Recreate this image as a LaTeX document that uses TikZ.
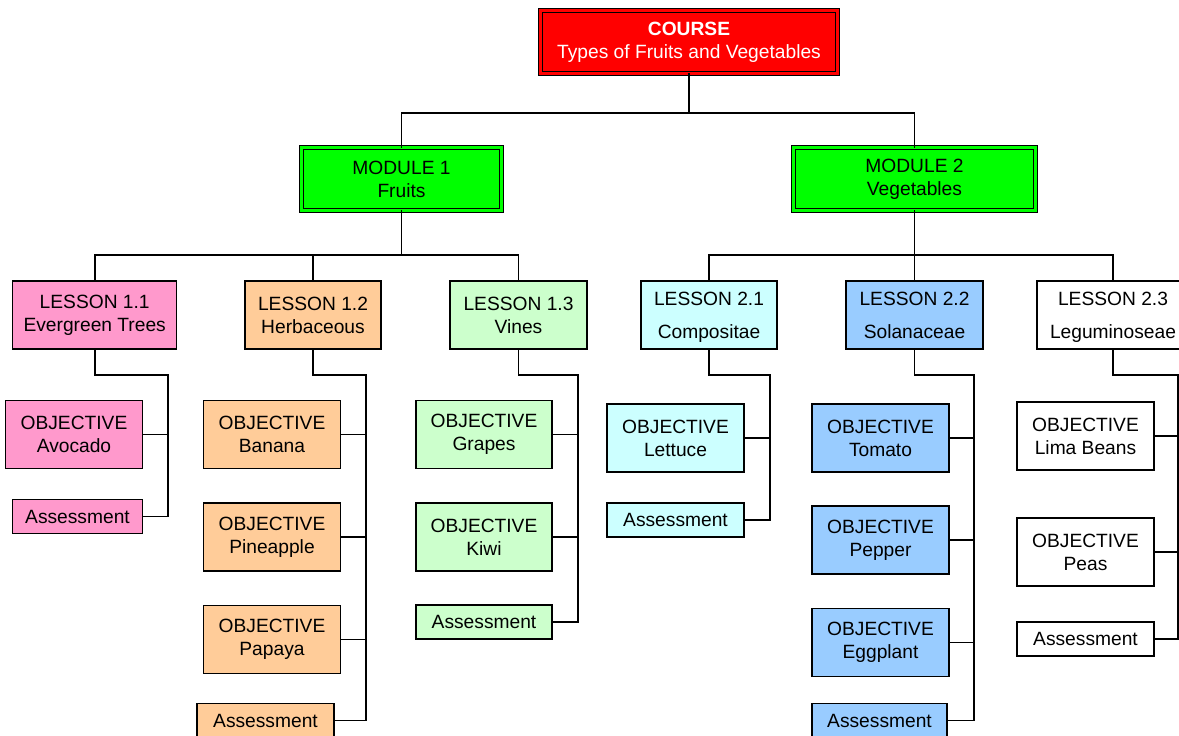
\documentclass[tikz,border=0pt]{standalone}
\usepackage{fontspec}
\setmainfont{Liberation Sans}
\definecolor{pinkfill}{HTML}{FF99CC}
\definecolor{peachfill}{HTML}{FFCC99}
\definecolor{mintfill}{HTML}{CCFFCC}
\definecolor{cyanfill}{HTML}{CCFFFF}
\definecolor{bluefill}{HTML}{99CCFF}
\definecolor{modgreen}{HTML}{00FF00}
\definecolor{coursered}{HTML}{FF0000}
% struts that fix the text block of the tall-spaced lesson boxes
\newcommand{\topstrut}{\rule{0pt}{19pt}}
\newcommand{\botstrut}{\rule[-5pt]{0pt}{5pt}}
\begin{document}
\begin{tikzpicture}[x=1pt,y=-1pt,
  box/.style={draw=black, line width=1.3pt, align=center, inner sep=0pt,
    text=black, font=\fontsize{19.2}{23}\selectfont},
  widebox/.style={box, font=\fontsize{19.2}{32.5}\selectfont},
  dblbox/.style={box, line width=1.2pt, double distance=2.2pt},
  lesson/.style={box, minimum height=68pt},
  objbox/.style={box, minimum width=137pt, minimum height=68pt},
  assess/.style={box, minimum width=137pt, minimum height=34pt},
  main/.style={line width=1.7pt, line cap=rect},
  thin/.style={line width=1.1pt}]
\useasboundingbox (0,0) rectangle (1179,736);
\clip (0,0) rectangle (1179,736);

% course and modules
\node[dblbox, fill=coursered, double=coursered, text=white,
  minimum width=297pt, minimum height=63pt] (course) at (689,42)
  {\textbf{COURSE}\\Types of Fruits and Vegetables};
\node[dblbox, fill=modgreen, double=modgreen,
  minimum width=200pt, minimum height=63pt] (m1) at (401.5,179) {MODULE 1\\Fruits};
\node[dblbox, fill=modgreen, double=modgreen,
  minimum width=242pt, minimum height=63pt] (m2) at (914.5,179) {MODULE 2\\Vegetables};

% lessons
\node[lesson, fill=pinkfill, minimum width=164pt] (l11) at (94.7,315) {LESSON 1.1\\Evergreen Trees};
\node[lesson, fill=peachfill, minimum width=136pt] (l12) at (313,315) {LESSON 1.2\\Herbaceous};
\node[lesson, fill=mintfill, minimum width=137pt] (l13) at (518.5,315) {LESSON 1.3\\Vines};
\node[lesson, widebox, fill=cyanfill, minimum width=136pt, minimum height=68pt] (l21) at (709,315)
  {\topstrut LESSON 2.1\\Compositae\botstrut};
\node[lesson, widebox, fill=bluefill, minimum width=137pt, minimum height=68pt] (l22) at (914.5,315)
  {\topstrut LESSON 2.2\\Solanaceae\botstrut};
\node[lesson, widebox, fill=white, minimum width=152pt, minimum height=68pt] (l23) at (1113,315)
  {\topstrut LESSON 2.3\\Leguminoseae\botstrut};

% lesson 1.1 items
\node[objbox, fill=pinkfill] (o111) at (74,434.5) {OBJECTIVE\\Avocado};
\node[assess, fill=pinkfill, minimum width=130pt] (a11) at (77.5,516.5) {Assessment};

% lesson 1.2 items
\node[objbox, fill=peachfill] (o121) at (272,434.5) {OBJECTIVE\\Banana};
\node[objbox, fill=peachfill] (o122) at (272,537) {OBJECTIVE\\Pineapple};
\node[objbox, fill=peachfill] (o123) at (272,639.5) {OBJECTIVE\\Papaya};
\node[assess, fill=peachfill] (a12) at (265.5,720.5) {Assessment};

% lesson 1.3 items
\node[objbox, fill=mintfill, minimum width=136pt] (o131) at (484,434.5) {OBJECTIVE\\Grapes};
\node[objbox, fill=mintfill, minimum width=136pt] (o132) at (484,537) {OBJECTIVE\\Kiwi};
\node[assess, fill=mintfill, minimum width=136pt] (a13) at (484,622) {Assessment};

% lesson 2.1 items
\node[objbox, fill=cyanfill] (o211) at (675.5,438) {OBJECTIVE\\Lettuce};
\node[assess, fill=cyanfill] (a21) at (675.5,520) {Assessment};

% lesson 2.2 items
\node[objbox, fill=bluefill] (o221) at (880.5,438) {OBJECTIVE\\Tomato};
\node[objbox, fill=bluefill] (o222) at (880.5,540) {OBJECTIVE\\Pepper};
\node[objbox, fill=bluefill] (o223) at (880.5,642.5) {OBJECTIVE\\Eggplant};
\node[assess, fill=bluefill, minimum width=135pt] (a22) at (879.5,720.5) {Assessment};

% lesson 2.3 items
\node[objbox, fill=white] (o231) at (1085.5,436) {OBJECTIVE\\Lima Beans};
\node[objbox, fill=white] (o232) at (1085.5,552) {OBJECTIVE\\Peas};
\node[assess, fill=white] (a23) at (1085.5,639) {Assessment};

% bus points
\coordinate (cb) at (689,113);
\coordinate (m1b) at (401.5,255);
\coordinate (m2b) at (914.5,255);
\coordinate (b11) at (168,375);
\coordinate (b12) at (366,375);
\coordinate (b13) at (578,375);
\coordinate (b21) at (770,375);
\coordinate (b22) at (974,375);
\coordinate (b23) at (1178,375);

% course to modules
\draw[main] (course.south) -- (cb);
\draw[main] (m1.north) -- (m1.north |- cb) -- (m2.north |- cb) -- (m2.north);

% modules to lessons
\draw[main] (m1.south) -- (m1b);
\draw[main] (l11.north) -- (l11.north |- m1b) -- (l13.north |- m1b) -- (l13.north);
\draw[main] (l12.north) -- (l12.north |- m1b);
\draw[main] (m2.south) -- (m2b);
\draw[main] (l21.north) -- (l21.north |- m2b) -- (l23.north |- m2b) -- (l23.north);
\draw[main] (l22.north) -- (l22.north |- m2b);

% lessons to their items
\draw[main] (l11.south) |- (b11) -- (b11 |- a11.east);
\draw[main] (l12.south) |- (b12) -- (b12 |- a12.east);
\draw[main] (l13.south) |- (b13) -- (b13 |- a13.east);
\draw[main] (l21.south) |- (b21) -- (b21 |- a21.east);
\draw[main] (l22.south) |- (b22) -- (b22 |- a22.east);
\draw[main] (l23.south) |- (b23) -- (b23 |- a23.east);

\foreach \n/\b in {o111/b11, a11/b11, o121/b12, o122/b12, o123/b12, a12/b12,
    o131/b13, o132/b13, a13/b13, o211/b21, a21/b21,
    o221/b22, o222/b22, o223/b22, a22/b22, o231/b23, o232/b23, a23/b23}
  \draw[thin] (\n.east) -- (\n.east -| \b);
\end{tikzpicture}
\end{document}
